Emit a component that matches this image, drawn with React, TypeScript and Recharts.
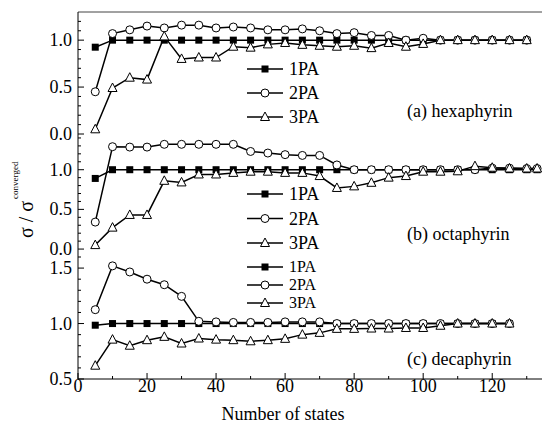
import { Legend, Line, LineChart, ReferenceLine, XAxis, YAxis } from "recharts";

const FONT = '"Liberation Serif", "Times New Roman", serif';

// number of states (x)
const statesA = [5, 10, 15, 20, 25, 30, 35, 40, 45, 50, 55, 60, 65, 70, 75, 80, 85, 90, 95, 100, 105, 110, 115, 120, 125, 130];
const statesB = [5, 10, 15, 20, 25, 30, 35, 40, 45, 50, 55, 60, 65, 70, 75, 80, 85, 90, 95, 100, 105, 110, 115, 120, 125, 130, 133];
const statesC = [5, 10, 15, 20, 25, 30, 35, 40, 45, 50, 55, 60, 65, 70, 75, 80, 85, 90, 95, 100, 105, 110, 115, 120, 125];

// (a) hexaphyrin
const hexa1PA = [0.925, 1, 1, 1, 1, 1, 1, 1, 1, 1, 1, 1, 1, 1, 1, 1, 1, 1, 1, 1, 1, 1, 1, 1, 1, 1];
const hexa2PA = [0.45, 1.07, 1.11, 1.15, 1.13, 1.16, 1.16, 1.13, 1.14, 1.13, 1.11, 1.11, 1.12, 1.1, 1.07, 1.08, 1.05, 1.05, 1.0, 1.02, 1.0, 1.0, 1.0, 1.0, 1.0, 1.0];
const hexa3PA = [0.05, 0.49, 0.6, 0.58, 1.04, 0.8, 0.815, 0.815, 0.93, 0.92, 0.955, 0.97, 0.95, 0.94, 0.93, 0.94, 0.915, 0.97, 0.93, 0.96, 1.0, 1.0, 1.0, 1.0, 1.0, 1.0];

// (b) octaphyrin
const octa1PA = [0.89, 1, 1, 1, 1, 1, 1, 1, 1, 1, 1, 1, 1, 1, 1, 1, 1, 1, 1, 1, 1, 1, 1, 1, 1, 1, 1];
const octa2PA = [0.34, 1.29, 1.285, 1.285, 1.32, 1.32, 1.32, 1.32, 1.32, 1.23, 1.21, 1.19, 1.18, 1.18, 1.06, 1.0, 1.0, 1.0, 1.0, 1.0, 1.0, 1.0, 1.0, 1.02, 1.02, 1.015, 1.015];
const octa3PA = [0.05, 0.27, 0.43, 0.43, 0.86, 0.84, 0.94, 0.94, 0.96, 0.975, 0.975, 0.96, 0.96, 0.92, 0.77, 0.79, 0.835, 0.9, 0.92, 0.975, 0.975, 0.98, 1.045, 1.025, 1.015, 1.015, 1.015];

// (c) decaphyrin
const deca1PA = [0.985, 1, 1, 1, 1, 1, 1, 1, 1, 1, 1, 1, 1, 1, 1, 1, 1, 1, 1, 1, 1, 1, 1, 1, 1];
const deca2PA = [1.125, 1.52, 1.465, 1.4, 1.35, 1.245, 1.02, 1.015, 1.01, 1.01, 1.01, 1.015, 1.015, 1.015, 1.0, 1.0, 1.0, 1.0, 1.0, 1.0, 1.0, 1.0, 1.0, 1.0, 1.0];
const deca3PA = [0.62, 0.855, 0.8, 0.85, 0.88, 0.82, 0.865, 0.855, 0.85, 0.84, 0.85, 0.862, 0.9, 0.916, 0.952, 0.952, 0.955, 0.955, 0.96, 0.96, 0.98, 1.0, 1.0, 1.0, 1.0];

const xTicks = [0, 10, 20, 30, 40, 50, 60, 70, 80, 90, 100, 110, 120, 130];
const yTicksA = [0, 0.1, 0.2, 0.3, 0.4, 0.5, 0.6, 0.7, 0.8, 0.9, 1.0, 1.1, 1.2];
const yTicksB = [0, 0.1, 0.2, 0.3, 0.4, 0.5, 0.6, 0.7, 0.8, 0.9, 1.0, 1.1, 1.2, 1.3, 1.4];
const yTicksC = [0.5, 0.6, 0.7, 0.8, 0.9, 1.0, 1.1, 1.2, 1.3, 1.4, 1.5, 1.6];
const seriesNames = ["1PA", "2PA", "3PA"];

const toRows = (xs: number[], a: number[], b: number[], c: number[]) =>
  xs.map((x, i) => ({ x, p1: a[i], p2: b[i], p3: c[i] }));

const dataA = toRows(statesA, hexa1PA, hexa2PA, hexa3PA);
const dataB = toRows(statesB, octa1PA, octa2PA, octa3PA);
const dataC = toRows(statesC, deca1PA, deca2PA, deca3PA);

function Marker({ kind, cx, cy }: { kind: string; cx: number; cy: number }) {
  if (kind === "p1") return <rect x={cx - 3.5} y={cy - 3.5} width={7} height={7} fill="#000" />;
  if (kind === "p2") return <circle cx={cx} cy={cy} r={4} fill="#fff" stroke="#000" strokeWidth={1} />;
  return (
    <path
      d={`M${cx},${cy - 5}L${cx + 4.5},${cy + 3.5}L${cx - 4.5},${cy + 3.5}Z`}
      fill="#fff"
      stroke="#000"
      strokeWidth={1}
    />
  );
}

const dotFor = (kind: string) => (props: any) =>
  <Marker key={`${kind}-${props.index}`} kind={kind} cx={props.cx} cy={props.cy} />;

const isMajor = (v: number) => Math.abs(v * 2 - Math.round(v * 2)) < 1e-6;

const YTick = (props: any) => {
  const { x, y, payload } = props;
  const major = isMajor(payload.value);
  return (
    <g>
      <line x1={x} x2={x + (major ? 6 : 3)} y1={y} y2={y} stroke="#000" />
      {major && (
        <text x={x - 6} y={y + 6} textAnchor="end" fontFamily={FONT} fontSize={18} fill="#000">
          {payload.value.toFixed(1)}
        </text>
      )}
    </g>
  );
};

const XTick = (props: any) => {
  const { x, y, payload } = props;
  const major = payload.value % 20 === 0;
  return (
    <g>
      <line x1={x} x2={x} y1={y} y2={y - (major ? 6 : 3)} stroke="#000" />
      {major && (
        <text x={x} y={y + 13} textAnchor="middle" fontFamily={FONT} fontSize={18} fill="#000">
          {payload.value}
        </text>
      )}
    </g>
  );
};

const legendContent = (gap: number, size: number) => (props: any) => {
  const items = props.payload ?? [];
  return (
    <svg width={90} height={24 + gap * (items.length - 1)} style={{ display: "block", overflow: "visible" }}>
      {items.map((item: any, i: number) => {
        const cy = 12 + i * gap;
        return (
          <g key={item.value}>
            <line x1={0} x2={36} y1={cy} y2={cy} stroke="#000" strokeWidth={1.5} />
            <Marker kind={item.dataKey} cx={18} cy={cy} />
            <text x={42} y={cy + size / 3} fontFamily={FONT} fontSize={size} fill="#000">
              {item.value}
            </text>
          </g>
        );
      })}
    </svg>
  );
};

const yLabel = () => (
  <text transform="rotate(-90 33 104)" x={33} y={104} fontFamily={FONT} fontSize={20} fill="#000">
    σ / σ
    <tspan fontSize={9} dx={2} dy={-15}>
      converged
    </tspan>
  </text>
);

const xLabel = () => (
  <text x={283} y={163} textAnchor="middle" fontFamily={FONT} fontSize={18} fill="#000">
    Number of states
  </text>
);

interface PanelProps {
  top: number;
  height: number;
  marginTop: number;
  data: any[];
  domain: [number, number];
  ticks: number[];
  legendTop: number;
  legendGap: number;
  legendSize: number;
  bottom?: boolean;
  baseColor: string;
  topLine?: number;
  withYLabel?: boolean;
}

function Panel(p: PanelProps) {
  return (
    <div style={{ position: "absolute", left: 0, top: p.top }}>
      <LineChart
        width={544}
        height={p.height}
        data={p.data}
        margin={{ top: p.marginTop, right: 0, bottom: 0, left: 0 }}
      >
        <XAxis
          dataKey="x"
          type="number"
          domain={[0, 135]}
          allowDataOverflow
          ticks={xTicks}
          interval={0}
          tickSize={0}
          tickMargin={0}
          height={p.bottom ? 45 : 0}
          tick={p.bottom ? XTick : false}
          axisLine={{ stroke: p.baseColor }}
          label={p.bottom ? xLabel : undefined}
        />
        <YAxis
          type="number"
          domain={p.domain}
          allowDataOverflow
          ticks={p.ticks}
          interval={0}
          width={78}
          tickSize={0}
          tickMargin={0}
          tick={YTick}
          axisLine={{ stroke: "#000" }}
          label={p.withYLabel ? yLabel : undefined}
        />
        {p.topLine !== undefined && <ReferenceLine y={p.topLine} stroke="#444" />}
        <Legend
          layout="vertical"
          align="center"
          verticalAlign="middle"
          content={legendContent(p.legendGap, p.legendSize)}
          wrapperStyle={{ left: 247, top: p.legendTop, width: 90 }}
        />
        {["p1", "p2", "p3"].map((key, i) => (
          <Line
            key={key}
            type="linear"
            dataKey={key}
            name={seriesNames[i]}
            stroke="#000"
            strokeWidth={1.5}
            dot={dotFor(key)}
            activeDot={false}
            isAnimationActive={false}
          />
        ))}
      </LineChart>
    </div>
  );
}

const panelLabel = (text: string, top: number) => (
  <div
    style={{
      position: "absolute",
      left: 407,
      top,
      fontFamily: FONT,
      fontSize: 18,
      lineHeight: "18px",
      color: "#000",
      whiteSpace: "nowrap",
    }}
  >
    {text}
  </div>
);

export default function App() {
  return (
    <div
      style={{
        position: "absolute",
        left: 0,
        top: 0,
        width: 542,
        height: 424,
        overflow: "hidden",
        background: "#fff",
      }}
    >
      <style>{".recharts-surface{overflow:visible}"}</style>
      <Panel
        top={0}
        height={134}
        marginTop={12}
        data={dataA}
        domain={[0, 1.3]}
        ticks={yTicksA}
        legendTop={57}
        legendGap={24}
        legendSize={18}
        baseColor="#999"
        topLine={1.3}
      />
      <Panel
        top={134}
        height={123}
        marginTop={0}
        data={dataB}
        domain={[-0.1, 1.45]}
        ticks={yTicksB}
        legendTop={48}
        legendGap={24.5}
        legendSize={18}
        baseColor="#333"
        withYLabel
      />
      <Panel
        top={257}
        height={167}
        marginTop={0}
        data={dataC}
        domain={[0.5, 1.6]}
        ticks={yTicksC}
        legendTop={-2}
        legendGap={18}
        legendSize={16}
        baseColor="#000"
        bottom
      />
      {panelLabel("(a) hexaphyrin", 102)}
      {panelLabel("(b) octaphyrin", 225)}
      {panelLabel("(c) decaphyrin", 350)}
    </div>
  );
}
